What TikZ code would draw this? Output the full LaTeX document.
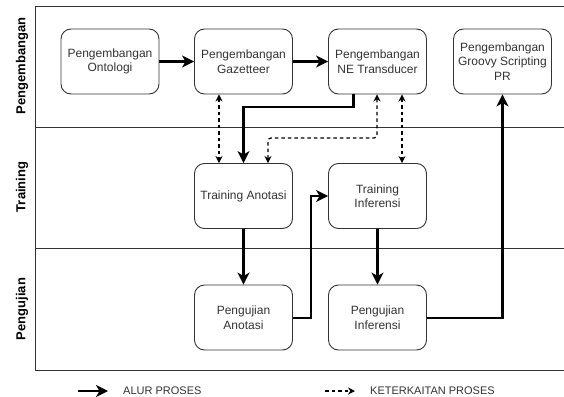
\documentclass[tikz,border=0pt]{standalone}
\usepackage{fontspec}
\setmainfont{Liberation Sans}
\usetikzlibrary{arrows.meta}
\definecolor{txt}{RGB}{51,51,51}
\definecolor{frame}{RGB}{51,51,51}
\begin{document}
\begin{tikzpicture}[x=1pt,y=-1pt,
  box/.style={draw=frame,line width=0.9pt,rounded corners=10pt,minimum width=98pt,minimum height=65pt,
    align=center,font=\fontsize{12}{14.5}\selectfont,text=txt,inner sep=2pt},
  flow/.style={line width=2.9pt,-{Stealth[length=12pt,width=12pt,inset=3.5pt]}},
  rel/.style={line width=1.2pt,dash pattern=on 3.5pt off 3pt,{Stealth[length=7pt,width=7pt]}-{Stealth[length=7pt,width=7pt]}},
  relone/.style={line width=1.2pt,dash pattern=on 3.5pt off 3pt,-{Stealth[length=7pt,width=7pt]}},
  lane/.style={font=\bfseries\fontsize{13}{16}\selectfont,rotate=90,text=black},
  lgd/.style={font=\fontsize{11}{13}\selectfont,text=txt,anchor=west,inner sep=0pt}]
\useasboundingbox (0,0) rectangle (564,396);
% pool frame
\draw[frame,line width=0.9pt] (564,6) -- (35,6) -- (35,370) -- (564,370);
\draw[frame,line width=0.9pt] (35,127) -- (564,127);
\draw[frame,line width=0.9pt] (35,248.5) -- (564,248.5);
% lane labels
\node[lane] (l1) at (22,66) {Pengembangan};
\node[lane] (l2) at (22,187) {Training};
\node[lane] (l3) at (22,309) {Pengujian};
% boxes
\node[box] (onto) at (110,61.5) {Pengembangan\\Ontologi};
\node[box] (gaz) at (243.5,61.5) {Pengembangan\\Gazetteer};
\node[box] (ne) at (377.5,61.5) {Pengembangan\\NE Transducer};
\node[box] (groovy) at (502.5,61.5) {Pengembangan\\Groovy Scripting\\PR};
\node[box] (ta) at (243.5,196) {Training Anotasi};
\node[box] (ti) at (377.5,196) {Training\\Inferensi};
\node[box] (pa) at (243.5,317.5) {Pengujian\\Anotasi};
\node[box] (pi) at (377.5,317.5) {Pengujian\\Inferensi};
% flow arrows
\draw[flow] (onto) -- (gaz);
\draw[flow] (gaz) -- (ne);
\coordinate (c1) at (353.5,107);
\draw[flow] ([xshift=-24pt]ne.south) -- (c1) -| (ta.north);
\draw[flow] (ta) -- (pa);
\draw[flow] (ti) -- (pi);
\coordinate (c2) at (311,318);
\draw[flow] (pa.east |- c2) -- (c2) |- (ti.west);
\draw[flow] (pi.east |- c2) -| (groovy.south);
% relation arrows
\draw[rel] ([xshift=-24.5pt]gaz.south) -- ([xshift=-24.5pt]ta.north);
\coordinate (c3) at (377,138);
\draw[rel,rounded corners=3pt] ([xshift=-0.5pt]ne.south) -- (c3) -| ([xshift=24.5pt]ta.north);
\draw[rel] ([xshift=24.5pt]ne.south) -- ([xshift=24.5pt]ti.north);
% legend
\coordinate (a1) at (78,391);
\coordinate (a2) at (108,391);
\draw[flow] (a1) -- (a2);
\node[lgd] (t1) at (123,391) {ALUR PROSES};
\coordinate (b1) at (325,391);
\coordinate (b2) at (355,391);
\draw[relone] (b1) -- (b2);
\node[lgd] (t2) at (370,391) {KETERKAITAN PROSES};
\end{tikzpicture}
\end{document}
